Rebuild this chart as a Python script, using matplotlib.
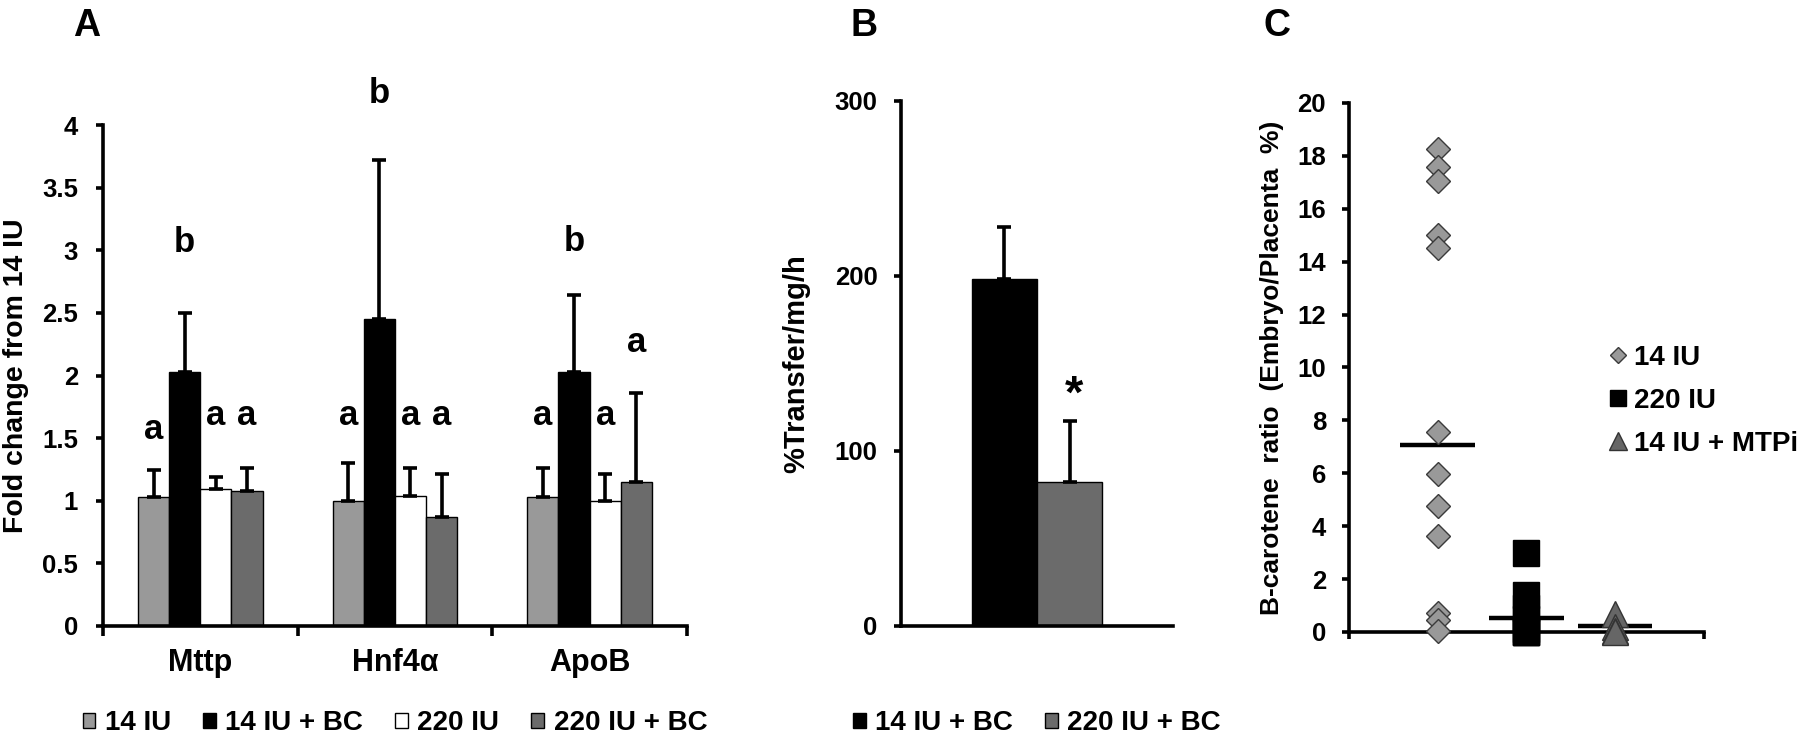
import numpy as np
import matplotlib
matplotlib.use("Agg")
import matplotlib.pyplot as plt
from matplotlib.lines import Line2D
from matplotlib.ticker import FormatStrFormatter

plt.rcParams['font.family'] = ['Liberation Sans', 'DejaVu Sans']
plt.rcParams['font.weight'] = 'bold'
plt.rcParams['axes.labelweight'] = 'bold'

############## Panel A data: fold change from 14 IU ##############
genes = ['Mttp', 'Hnf4α', 'ApoB']
groups_a = ['14 IU', '14 IU + BC', '220 IU', '220 IU + BC']
colors_a = ['#999999', '#000000', '#ffffff', '#6b6b6b']
mean_14 = [1.03, 1.00, 1.03]
mean_14bc = [2.03, 2.45, 2.03]
mean_220 = [1.09, 1.04, 1.00]
mean_220bc = [1.075, 0.87, 1.15]
sd_14 = [0.215, 0.30, 0.23]
sd_14bc = [0.47, 1.27, 0.61]
sd_220 = [0.10, 0.22, 0.21]
sd_220bc = [0.185, 0.34, 0.71]
letters_a = [['a', 'b', 'a', 'a'], ['a', 'b', 'a', 'a'], ['a', 'b', 'a', 'a']]
letter_y = [[1.57, 3.06, 1.68, 1.68], [1.68, 4.25, 1.68, 1.68], [1.68, 3.07, 1.68, 2.26]]

############## Panel B data: % transfer ##############
groups_b = ['14 IU + BC', '220 IU + BC']
colors_b = ['#000000', '#6b6b6b']
transfer = [198, 82]
transfer_sd = [30, 35]
star_y = 142

############## Panel C data: B-carotene ratio ##############
groups_c = ['14 IU', '220 IU', '14 IU + MTPi']
ratio_14 = [18.26, 17.58, 17.05, 15.02, 14.5, 7.57, 5.98, 4.76, 3.63, 0.70, 0.47, 0.04]
ratio_220 = [3.0, 1.4, 0.9, 0.5, 0.1, 0.0, 0.0, 0.0]
ratio_mtpi = [0.68, 0.2, 0.05, 0.0]
ratio_means = [7.07, 0.53, 0.23]

fig = plt.figure(figsize=(18, 7.41), dpi=100)

def style_axis(ax, pad=12):
    for s in ['top', 'right']:
        ax.spines[s].set_visible(False)
    for s in ['left', 'bottom']:
        ax.spines[s].set_linewidth(2.6)
    ax.tick_params(axis='both', which='both', width=2.6, length=5, direction='out',
                   labelsize=18.5, pad=pad)

legend_kw = dict(frameon=False, fontsize=20, handlelength=0.45, handleheight=0.45,
                 handletextpad=0.35, columnspacing=1.15, borderpad=0)

############## Panel A ##############
axA = fig.add_axes([0.0572, 0.1552, 0.3244, 0.6761])
x = np.arange(len(genes))
w = 0.16
means_a = [mean_14, mean_14bc, mean_220, mean_220bc]
sds_a = [sd_14, sd_14bc, sd_220, sd_220bc]
for i in range(4):
    pos = x + (i - 1.5) * w
    axA.bar(pos, means_a[i], w, color=colors_a[i], edgecolor='black', linewidth=1,
            label=groups_a[i], yerr=[np.zeros(3), sds_a[i]], capsize=5,
            error_kw=dict(elinewidth=2.6, capthick=2.6, ecolor='black'))
    for j in range(3):
        axA.text(pos[j], letter_y[j][i], letters_a[j][i], ha='center', va='center',
                 fontsize=25, clip_on=False)
style_axis(axA, pad=13)
axA.set_xlim(-0.5, 2.5)
axA.set_ylim(0, 4)
axA.set_yticks(np.arange(0, 4.01, 0.5))
axA.yaxis.set_major_formatter(FormatStrFormatter('%g'))
axA.set_xticks(x)
axA.set_xticklabels(genes, fontsize=22)
axA.set_xticks([-0.5, 0.5, 1.5, 2.5], minor=True)
axA.tick_params(axis='x', which='major', length=0, pad=16)
axA.tick_params(axis='x', which='minor', length=7)
axA.set_ylabel('Fold change from 14 IU', fontsize=20.5)
axA.yaxis.set_label_coords(-0.127, 0.5)
axA.legend(loc='center', bbox_to_anchor=(0.5, -0.194), ncol=4, **legend_kw)

############## Panel B ##############
axB = fig.add_axes([0.5006, 0.1552, 0.1511, 0.7085])
wb = 0.24
xb = 0.5 + (np.arange(2) - 0.5) * wb
for i in range(2):
    axB.bar(xb[i], transfer[i], wb, color=colors_b[i], edgecolor='black', linewidth=1,
            label=groups_b[i], yerr=[[0], [transfer_sd[i]]], capsize=5,
            error_kw=dict(elinewidth=2.6, capthick=2.6, ecolor='black'))
# '*' glyph sits high in its box, so anchor on the baseline just below the mark
axB.text(xb[1] + 0.015, star_y - 17, '*', ha='center', va='baseline', fontsize=34)
style_axis(axB, pad=12)
axB.set_xlim(0, 1)
axB.set_ylim(0, 300)
axB.set_yticks([0, 100, 200, 300])
axB.set_xticks([])
axB.set_ylabel('%Transfer/mg/h', fontsize=21)
axB.yaxis.set_label_coords(-0.335, 0.5)
axB.legend(loc='center', bbox_to_anchor=(0.5, -0.185), ncol=2, **legend_kw)

############## Panel C ##############
axC = fig.add_axes([0.7494, 0.1471, 0.1972, 0.7139])
for k in range(3):
    axC.hlines(ratio_means[k], k + 1 - 0.42, k + 1 + 0.42, color='black', linewidth=3.2,
               zorder=2)
axC.plot([1] * len(ratio_14), ratio_14, ls='none', marker='D', ms=12.5, mfc='#999999',
         mec='#3a3a3a', mew=1, clip_on=False, zorder=3)
axC.plot([2] * len(ratio_220), ratio_220, ls='none', marker='s', ms=19, mfc='black',
         mec='black', mew=1, clip_on=False, zorder=3)
axC.plot([3] * len(ratio_mtpi), ratio_mtpi, ls='none', marker='^', ms=19, mfc='#666666',
         mec='#333333', mew=1, clip_on=False, zorder=3)
style_axis(axC, pad=11.5)
axC.set_xlim(0, 4)
axC.set_ylim(0, 20)
axC.set_yticks(np.arange(0, 21, 2))
axC.set_xticks([0, 1, 2, 3, 4])
axC.set_xticklabels([])
axC.set_ylabel('B-carotene  ratio  (Embryo/Placenta  %)', fontsize=19)
axC.yaxis.set_label_coords(-0.183, 0.5)
handles_c = [
    Line2D([], [], ls='none', marker='D', ms=8.5, mfc='#999999', mec='#3a3a3a', mew=1),
    Line2D([], [], ls='none', marker='s', ms=12, mfc='black', mec='black'),
    Line2D([], [], ls='none', marker='^', ms=12.5, mfc='#666666', mec='#333333', mew=1),
]
axC.legend(handles_c, groups_c, loc='center left', bbox_to_anchor=(0.73, 0.437),
           frameon=False, fontsize=20, handlelength=0.7, handletextpad=0.25,
           labelspacing=0.62, borderpad=0, borderaxespad=0)

############## Panel letters ##############
fig.text(87 / 1800, 1 - 26 / 741, 'A', ha='center', va='center', fontsize=27)
fig.text(864 / 1800, 1 - 26 / 741, 'B', ha='center', va='center', fontsize=27)
fig.text(1277 / 1800, 1 - 26 / 741, 'C', ha='center', va='center', fontsize=27)

fig.savefig('out.png', dpi=100)
